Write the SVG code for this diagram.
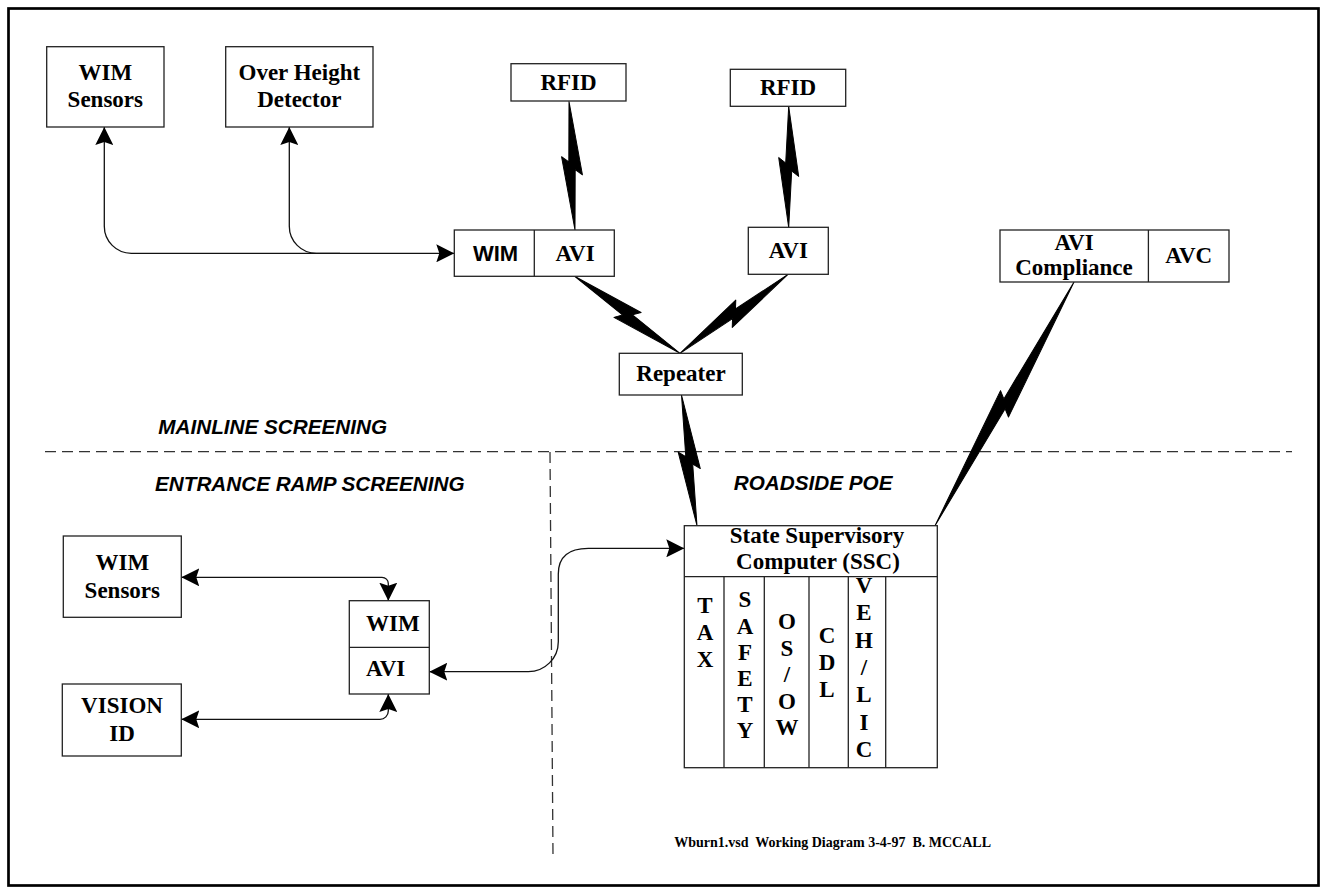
<svg xmlns="http://www.w3.org/2000/svg" width="1325" height="893" viewBox="0 0 1325 893">
  <style>
    .box { fill: #fff; stroke: #222; stroke-width: 1.3; }
    .t { font-family: "Liberation Serif", "Times New Roman", serif; font-weight: bold; font-size: 23px; fill: #000; text-anchor: middle; }
    .ts { font-family: "Liberation Sans", Arial, sans-serif; font-weight: bold; font-size: 22px; fill: #000; text-anchor: middle; }
    .sec { font-family: "Liberation Sans", Arial, sans-serif; font-weight: bold; font-style: italic; font-size: 20.7px; fill: #000; }
    .foot { font-family: "Liberation Serif", "Times New Roman", serif; font-weight: bold; font-size: 14px; fill: #000; }
    .conn { fill: none; stroke: #111; stroke-width: 1.3; }
    .bolt { fill: #000; stroke: #000; stroke-width: 1; stroke-linejoin: round; }
    .dash { fill: none; stroke: #333; stroke-width: 1.3; stroke-dasharray: 11 6; }
  </style>
  <defs>
    <marker id="ah" viewBox="0 0 18 18" refX="18" refY="9" markerWidth="18" markerHeight="18" markerUnits="userSpaceOnUse" orient="auto-start-reverse">
      <path d="M0,0 L18,9 L0,18 L3,9 Z" fill="#000"/>
    </marker>
  </defs>

  <rect x="0" y="0" width="1325" height="893" fill="#fff"/>
  <!-- page frame -->
  <rect x="8.5" y="8.5" width="1310" height="877" fill="none" stroke="#000" stroke-width="2.7"/>

  <!-- zone boundaries -->
  <g id="zones">
    <line class="dash" x1="45" y1="451.7" x2="1292" y2="451.7"/>
    <line class="dash" x1="550" y1="452" x2="553" y2="856"/>
    <text class="sec" x="158.3" y="434.3">MAINLINE SCREENING</text>
    <text class="sec" x="155" y="491">ENTRANCE RAMP SCREENING</text>
    <text class="sec" x="733.8" y="490">ROADSIDE POE</text>
  </g>

  <!-- connectors -->
  <g id="connectors">
    <path class="conn" d="M104.3,127 V226.3 A27,27 0 0 0 131.3,253.3 H454.3" marker-start="url(#ah)" marker-end="url(#ah)"/>
    <path class="conn" d="M289.3,127 V226.3 A27,27 0 0 0 316.3,253.3 H340" marker-start="url(#ah)"/>
    <path class="conn" d="M181.3,577.3 H382 A6.3,6.3 0 0 1 388.3,583.6 V600.7" marker-start="url(#ah)" marker-end="url(#ah)"/>
    <path class="conn" d="M181.3,719.3 H380 A8.3,8.3 0 0 0 388.3,711 V694" marker-start="url(#ah)" marker-end="url(#ah)"/>
    <path class="conn" d="M429.3,671.7 H528.3 A30,30 0 0 0 558.3,641.7 V574 C558.3,557 568,548.3 588.3,548.3 H684.3" marker-start="url(#ah)" marker-end="url(#ah)"/>

    <!-- radio links -->
    <path class="bolt" transform="translate(569,101.5) rotate(87.33)" d="M0,0 L73.82,-10 L68.32,-3 L128.64,0 L54.82,10 L60.32,3 Z"/>
    <path class="bolt" transform="translate(788.7,106.5) rotate(90)" d="M0,0 L70,-10 L64.5,-3 L121,0 L51,10 L56.5,3 Z"/>
    <path class="bolt" transform="translate(575,276.5) rotate(36.18)" d="M0,0 L74.55,-10 L69.05,-3 L130.09,0 L55.55,10 L61.05,3 Z"/>
    <path class="bolt" transform="translate(788,274.3) rotate(143.81)" d="M0,0 L76.4,-10 L70.9,-3 L133.81,0 L57.4,10 L62.9,3 Z"/>
    <path class="bolt" transform="translate(681.5,395) rotate(83.24)" d="M0,0 L75.31,-10 L69.81,-3 L131.62,0 L56.31,10 L61.81,3 Z"/>
    <path class="bolt" transform="translate(1074,282) rotate(119.70)" d="M0,0 L149.78,-10 L144.28,-3 L280.55,0 L130.78,10 L136.28,3 Z"/>
  </g>

  <!-- mainline nodes -->
  <g id="wim-sensors-main">
    <rect class="box" x="46.7" y="46.7" width="117.3" height="80.3"/>
    <text class="t" x="105.3" y="80">WIM</text>
    <text class="t" x="105.3" y="106.7">Sensors</text>
  </g>
  <g id="over-height">
    <rect class="box" x="225.7" y="46.7" width="147.3" height="80.3"/>
    <text class="t" x="299.3" y="80">Over Height</text>
    <text class="t" x="299.3" y="106.7">Detector</text>
  </g>
  <g id="rfid-1">
    <rect class="box" x="511" y="63.7" width="115" height="37.3"/>
    <text class="t" x="568.5" y="89.5">RFID</text>
  </g>
  <g id="rfid-2">
    <rect class="box" x="730.3" y="69.3" width="115.4" height="37"/>
    <text class="t" x="788" y="95.3">RFID</text>
  </g>
  <g id="wim-avi-main">
    <rect class="box" x="454.3" y="230" width="160" height="46.3"/>
    <line class="box" x1="534.3" y1="230" x2="534.3" y2="276.3"/>
    <text class="ts" x="495.5" y="260.5">WIM</text>
    <text class="t" x="575" y="260.5">AVI</text>
  </g>
  <g id="avi-main">
    <rect class="box" x="748.3" y="227.3" width="80" height="47"/>
    <text class="t" x="788.3" y="258.3">AVI</text>
  </g>
  <g id="repeater">
    <rect class="box" x="619.3" y="353.3" width="123" height="41.7"/>
    <text class="t" x="681" y="381.3">Repeater</text>
  </g>
  <g id="avi-compliance">
    <rect class="box" x="1000" y="230" width="229" height="52"/>
    <line class="box" x1="1148.4" y1="230" x2="1148.4" y2="282"/>
    <text class="t" x="1074" y="250">AVI</text>
    <text class="t" x="1074" y="275">Compliance</text>
    <text class="t" x="1188.7" y="263.3">AVC</text>
  </g>

  <!-- entrance ramp nodes -->
  <g id="wim-sensors-ramp">
    <rect class="box" x="63.3" y="536" width="118" height="81.3"/>
    <text class="t" x="122.3" y="570">WIM</text>
    <text class="t" x="122.3" y="598.3">Sensors</text>
  </g>
  <g id="vision-id">
    <rect class="box" x="62.3" y="684" width="119" height="72"/>
    <text class="t" x="122" y="713.3">VISION</text>
    <text class="t" x="122" y="740.7">ID</text>
  </g>
  <g id="wim-avi-ramp">
    <rect class="box" x="349.3" y="600.7" width="80" height="93.3"/>
    <line class="box" x1="349.3" y1="647.3" x2="429.3" y2="647.3"/>
    <text class="t" x="366" y="630.7" style="text-anchor:start">WIM</text>
    <text class="t" x="366" y="676" style="text-anchor:start">AVI</text>
  </g>

  <!-- roadside POE -->
  <g id="ssc">
    <rect class="box" x="684.3" y="525.7" width="253" height="242"/>
    <line class="box" x1="684.3" y1="576.7" x2="937.3" y2="576.7"/>
    <line class="box" x1="724" y1="576.7" x2="724" y2="767.7"/>
    <line class="box" x1="764.3" y1="576.7" x2="764.3" y2="767.7"/>
    <line class="box" x1="809" y1="576.7" x2="809" y2="767.7"/>
    <line class="box" x1="848.3" y1="576.7" x2="848.3" y2="767.7"/>
    <line class="box" x1="885.7" y1="576.7" x2="885.7" y2="767.7"/>
    <text class="t" x="817" y="543.3">State Supervisory</text>
    <text class="t" x="818" y="569.3">Computer (SSC)</text>
    <text class="t">
      <tspan x="705" y="613.3">T</tspan><tspan x="705" y="640">A</tspan><tspan x="705" y="666.7">X</tspan>
    </text>
    <text class="t">
      <tspan x="745" y="607.3">S</tspan><tspan x="745" y="633.5">A</tspan><tspan x="745" y="659.7">F</tspan><tspan x="745" y="685.9">E</tspan><tspan x="745" y="712.1">T</tspan><tspan x="745" y="738.3">Y</tspan>
    </text>
    <text class="t">
      <tspan x="787" y="629">O</tspan><tspan x="787" y="655.5">S</tspan><tspan x="787" y="682">/</tspan><tspan x="787" y="708.5">O</tspan><tspan x="787" y="735">W</tspan>
    </text>
    <text class="t">
      <tspan x="827" y="643.3">C</tspan><tspan x="827" y="670">D</tspan><tspan x="827" y="696.7">L</tspan>
    </text>
    <text class="t">
      <tspan x="864" y="593">V</tspan><tspan x="864" y="620.3">E</tspan><tspan x="864" y="647.7">H</tspan><tspan x="864" y="675">/</tspan><tspan x="864" y="702.3">L</tspan><tspan x="864" y="729.7">I</tspan><tspan x="864" y="757">C</tspan>
    </text>
  </g>

  <text class="foot" x="674.3" y="847.3" xml:space="preserve">Wburn1.vsd  Working Diagram 3-4-97  B. MCCALL</text>
</svg>
